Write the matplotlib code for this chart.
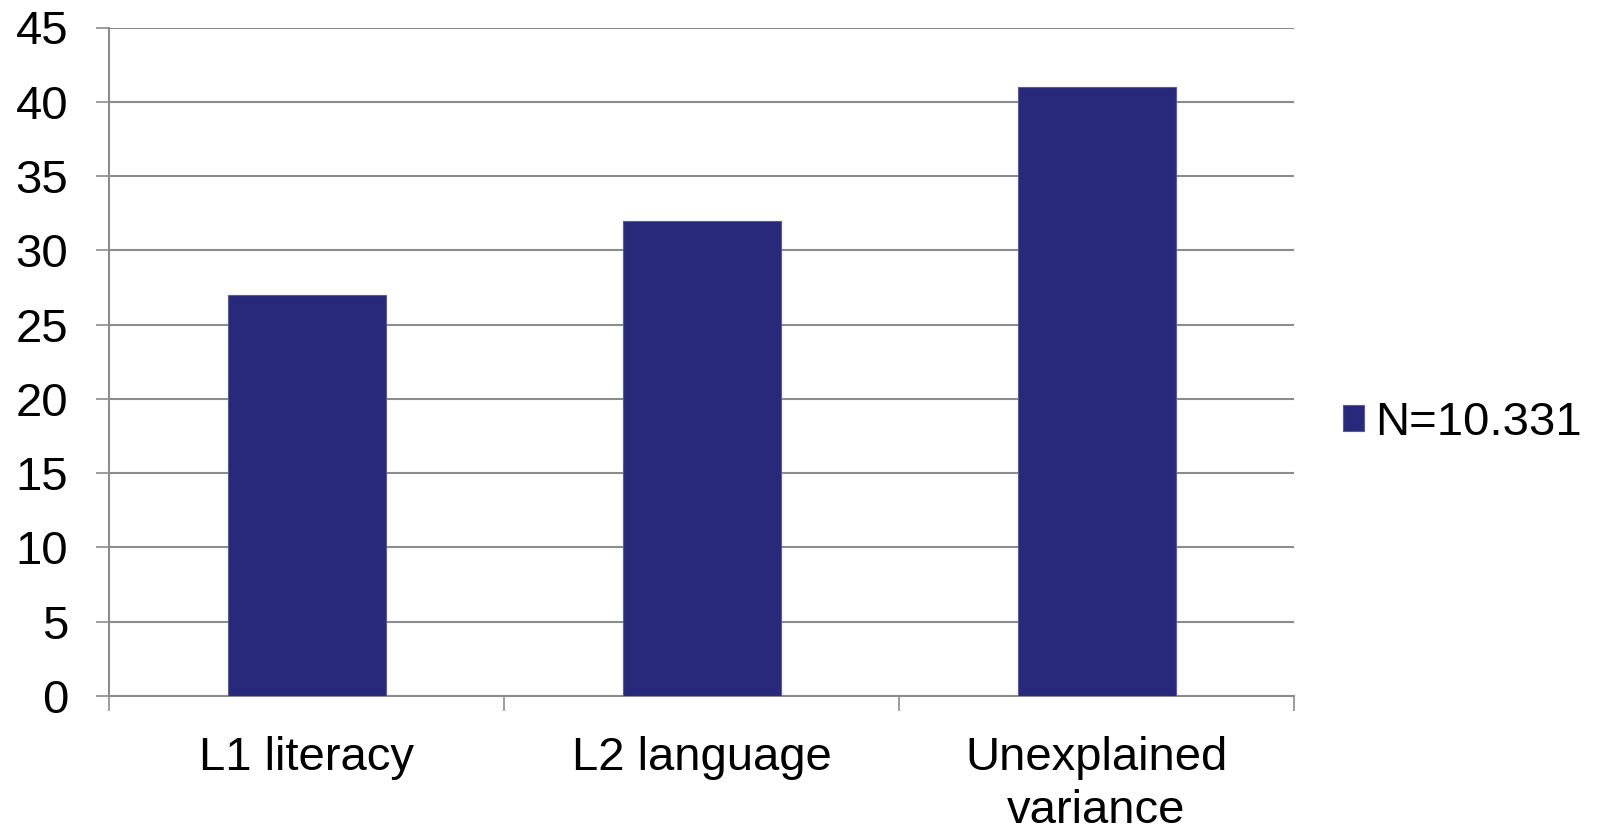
import matplotlib
matplotlib.use("Agg")
import matplotlib.pyplot as plt
import numpy as np

categories = ["L1 literacy", "L2 language", "Unexplained\nvariance"]
values = [27, 32, 41]
series_name = "N=10.331"
yticks = [0, 5, 10, 15, 20, 25, 30, 35, 40, 45]

plt.rcParams['font.family'] = ['Liberation Sans', 'DejaVu Sans']

fig = plt.figure(figsize=(15.98, 8.32), dpi=100)
ax = fig.add_axes([109/1598, 1-696/832, (1294-109)/1598, (696-27.5)/832])

x = np.arange(len(categories))
bars = ax.bar(x, values, width=0.4, color='#29297b', edgecolor='#5a5a98', linewidth=0.8,
              zorder=3, label=series_name)

ax.set_xlim(-0.5, len(categories) - 0.5)
ax.set_ylim(0, 45)
ax.set_yticks(yticks)
ax.set_yticklabels([str(t) for t in yticks])
ax.yaxis.grid(True, color='#8c8c8c', linewidth=1.5, zorder=0)
ax.set_axisbelow(True)

for s in ['top', 'right']:
    ax.spines[s].set_visible(False)
for s in ['left', 'bottom']:
    ax.spines[s].set_color('#8c8c8c')
    ax.spines[s].set_linewidth(1.5)

ax.tick_params(axis='y', length=9.5, width=1.2, color='#8c8c8c', labelsize=34, pad=20,
               labelcolor='black')
ax.set_xticks(np.arange(-0.5, len(categories), 1.0))
ax.set_xticklabels([])
ax.set_xticks(x, minor=True)
ax.set_xticklabels(categories, minor=True, fontsize=34, linespacing=1.27)
ax.tick_params(axis='x', which='major', length=10.5, width=1.2, color='#8c8c8c')
ax.tick_params(axis='x', which='minor', length=0, pad=29)

leg = fig.legend(handles=[bars], labels=[series_name], loc='center left',
                 bbox_to_anchor=(1318/1598 + 0.001, 1-423/832), frameon=False,
                 fontsize=34, handlelength=0.45, handleheight=0.45, handletextpad=0.22,
                 borderpad=0)

fig.savefig("out.png", dpi=100, facecolor='white')
